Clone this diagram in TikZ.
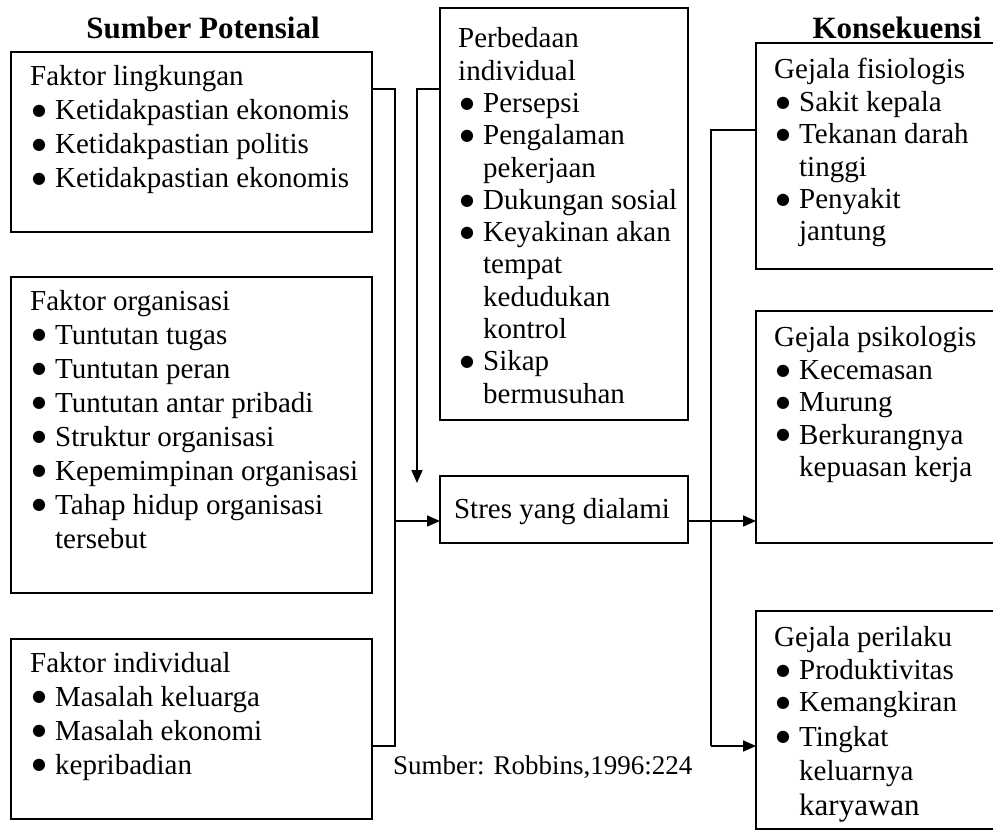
\documentclass[tikz,border=0pt]{standalone}
\usepackage{fontspec}
\setmainfont{Liberation Serif}
\newfontfamily\symfont{DejaVu Sans}
\usetikzlibrary{arrows.meta}

% bullet list layout used inside the boxes
\newcommand{\blist}[2]{{\fontsize{29}{#1}\selectfont
  \begin{tabular}{@{\hspace{2pt}}l@{\hspace{9pt}}l@{}}#2\end{tabular}}}
\newcommand{\hd}[1]{\multicolumn{2}{@{}l@{}}{#1}}
\newcommand{\bl}{\raisebox{4.2pt}{\symfont\fontsize{16}{16}\selectfont ●}}

\begin{document}
\begin{tikzpicture}[x=1pt,y=-1pt,
  frame/.style={draw, line width=1.7pt, anchor=north west, inner sep=0pt, outer sep=0pt},
  txt/.style={anchor=north west, inner sep=0pt},
  link/.style={line width=1.7pt},
  arr/.style={line width=1.7pt, -{Triangle[length=13pt,width=11pt]}},
  title/.style={font=\fontsize{31}{36}\selectfont\bfseries, inner sep=0pt}]
\useasboundingbox (0,0) rectangle (993,832);
\clip (0,0) rectangle (993,832);

% column headings
\node[title] (tl) at (203,28) {Sumber Potensial};
\node[title] (tr) at (897,28) {Konsekuensi};

% source boxes
\node[frame, minimum width=361pt, minimum height=180pt] (b1) at (11,52) {};
\node[frame, minimum width=361pt, minimum height=316pt] (b2) at (11,277) {};
\node[frame, minimum width=361pt, minimum height=180pt] (b3) at (11,639) {};
\node[txt] (t1) at ([shift={(19,10)}]b1.north west) {\blist{34}{%
  \hd{Faktor lingkungan}\\ \bl & Ketidakpastian ekonomis\\
  \bl & Ketidakpastian politis\\ \bl & Ketidakpastian ekonomis}};
\node[txt] (t2) at ([shift={(19,9)}]b2.north west) {\blist{34}{%
  \hd{Faktor organisasi}\\ \bl & Tuntutan tugas\\ \bl & Tuntutan peran\\
  \bl & Tuntutan antar pribadi\\ \bl & Struktur organisasi\\
  \bl & Kepemimpinan organisasi\\ \bl & Tahap hidup organisasi\\ & tersebut}};
\node[txt] (t3) at ([shift={(19,9)}]b3.north west) {\blist{34}{%
  \hd{Faktor individual}\\ \bl & Masalah keluarga\\ \bl & Masalah ekonomi\\
  \bl & kepribadian}};

% moderator and stress boxes
\node[frame, minimum width=248pt, minimum height=412pt] (mid) at (440,8) {};
\node[txt] (tm) at ([shift={(18,17)}]mid.north west) {\blist{32.3}{%
  \hd{Perbedaan}\\ \hd{individual}\\ \bl & Persepsi\\ \bl & Pengalaman\\
  & pekerjaan\\ \bl & Dukungan sosial\\ \bl & Keyakinan akan\\ & tempat\\
  & kedudukan\\ & kontrol\\ \bl & Sikap\\ & bermusuhan}};
\node[frame, minimum width=248pt, minimum height=67pt] (stres) at (440,476) {};
\node[inner sep=0pt, font=\fontsize{29}{32}\selectfont] (ts) at (562,512) {Stres yang dialami};

% consequence boxes (open towards the page edge)
\node[frame, minimum width=260pt, minimum height=226pt] (fis) at (756,43) {};
\node[frame, minimum width=260pt, minimum height=232pt] (psi) at (756,311) {};
\node[frame, minimum width=260pt, minimum height=218pt] (per) at (756,611) {};
\node[txt] (tf) at ([shift={(18,13)}]fis.north west) {\blist{32.4}{%
  \hd{Gejala fisiologis}\\ \bl & Sakit kepala\\ \bl & Tekanan darah\\
  & tinggi\\ \bl & Penyakit\\ & jantung}};
\node[txt] (tp) at ([shift={(18,13)}]psi.north west) {\blist{32.4}{%
  \hd{Gejala psikologis}\\ \bl & Kecemasan\\ \bl & Murung\\
  \bl & Berkurangnya\\ & kepuasan kerja}};
\node[txt] (tq) at ([shift={(18,13)}]per.north west) {\blist{32.4}{%
  \hd{Gejala perilaku}\\ \bl & Produktivitas\\ \bl & Kemangkiran\\[2pt]
  \bl & Tingkat\\[2pt] & keluarnya\\[3pt] & {\fontsize{31}{34}\selectfont karyawan}}};

\node[inner sep=0pt, anchor=west, font=\fontsize{27}{30}\selectfont] (src) at (393,767) {Sumber: Robbins,1996:224};

% junction points of the connectors
\coordinate (ja) at (395,89);
\coordinate (jb) at (395,746);
\coordinate (jin) at (395,521);
\coordinate (ka) at (417,89);
\coordinate (kb) at (417,483);
\coordinate (ra) at (711,130);
\coordinate (rin) at (711,521);
\coordinate (rb) at (711,746);

% sources into stress
\draw[link] (b1.east |- ja) -- (ja) -- (jb) -- (b3.east |- jb);
\draw[arr] (jin) -- (jin -| stres.west);
\draw[arr] (mid.west |- ka) -- (ka) -- (kb);

% stress into consequences
\draw[link] (fis.west |- ra) -- (ra) -- (rb);
\draw[arr] (rin -| stres.east) -- (rin -| psi.west);
\draw[arr] (rb) -- (rb -| per.west);
\end{tikzpicture}
\end{document}
